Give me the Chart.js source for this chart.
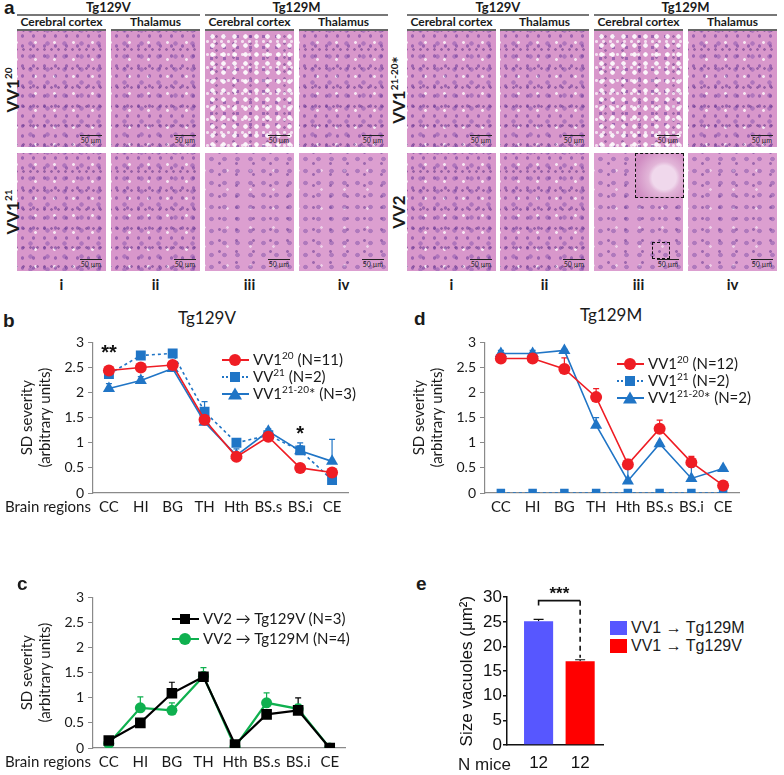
<!DOCTYPE html>
<html lang="en">
<head>
  <meta charset="UTF-8">
  <title>SD severity and vacuole size</title>
  <script src="https://cdn.jsdelivr.net/npm/chart.js"></script>
  <style>
    body {
      margin: 0;
      background: #fff;
      font-family: Lato, "Open Sans", sans-serif;
      color: #1a1a1a;
    }
    #page {
      position: relative;
      width: 784px;
      height: 775px;
      overflow: hidden;
    }
    .abs { position: absolute; white-space: nowrap; }
    .panel { font-weight: bold; font-size: 19px; font-family: "Liberation Sans", Arial, sans-serif; }
    .grp {
      position: absolute; top: 0; height: 14px;
      border-bottom: 2px solid #777;
      text-align: center; font-weight: bold; font-size: 13px; line-height: 14px;
    }
    .sub {
      position: absolute; top: 15px; height: 13px; white-space: nowrap;
      text-align: center; font-weight: bold; font-size: 12px; line-height: 14px;
    }
    .tissue {
      position: absolute; width: 89px; height: 118px;
      border-top: 2px solid #666;
      box-sizing: border-box;
      background-color: #d897cb;
      background-image:
        radial-gradient(circle, rgba(110,60,155,0.55) 0 1.4px, transparent 2px),
        radial-gradient(circle, rgba(125,75,170,0.45) 0 1.9px, transparent 2.5px),
        radial-gradient(circle, rgba(90,45,130,0.5) 0 1px, transparent 1.6px),
        radial-gradient(circle, rgba(255,255,255,0.75) 0 1.1px, transparent 1.7px);
      background-size: 11px 10px, 17px 13px, 7px 19px, 19px 17px;
      background-position: 0 0, 5px 6px, 3px 9px, 9px 3px;
    }
    .tissue.row2 { border-top: none; }
    .tissue.vac {
      background-image:
        radial-gradient(circle, rgba(255,255,255,0.9) 0 1.9px, transparent 2.6px),
        radial-gradient(circle, rgba(110,60,155,0.55) 0 1.4px, transparent 2px),
        radial-gradient(circle, rgba(255,255,255,0.7) 0 1.2px, transparent 1.8px),
        radial-gradient(circle, rgba(90,45,130,0.45) 0 1px, transparent 1.6px);
      background-size: 11px 9px, 13px 11px, 7px 13px, 17px 7px;
      background-position: 2px 1px, 0 0, 6px 4px, 3px 2px;
    }
    .tissue.pale {
      background-color: #dc9fd0;
      background-image:
        radial-gradient(circle, rgba(120,75,165,0.45) 0 2px, transparent 2.6px),
        radial-gradient(circle, rgba(95,50,140,0.5) 0 1.1px, transparent 1.7px),
        radial-gradient(circle, rgba(255,255,255,0.5) 0 1px, transparent 1.6px);
      background-size: 13px 12px, 17px 11px, 23px 19px;
      background-position: 0 0, 6px 5px, 11px 8px;
    }
    .bar50 {
      position: absolute; right: 4px; bottom: 3px;
      font-size: 7px; line-height: 8px; color: #222;
      border-top: 1.5px solid #222; padding: 0 1px;
    }
    .rowlab {
      position: absolute; font-weight: bold; font-size: 17px;
      transform: translate(-50%, -50%) rotate(-90deg);
      white-space: nowrap;
    }
    .rowlab sup { font-size: 10px; }
    .roman { position: absolute; top: 275px; width: 89px; text-align: center; font-weight: bold; font-size: 15px; }
    .title { font-size: 17px; }
    .legend { font-size: 15px; line-height: 17px; }
    .legend .row { position: absolute; display: flex; align-items: center; white-space: nowrap; }
    .legend sup { font-size: 10px; line-height: 0; }
    .legend svg { margin-right: 4px; }
    .eleg { font-family: "Liberation Sans", Arial, sans-serif; font-size: 16px; }
    .eleg .sw { position: absolute; width: 17px; height: 14px; }
    canvas { position: absolute; }
  </style>
</head>
<body>
<div id="page">
  <!-- panel a: histology -->
  <div class="abs panel" style="left:4px; top:-3px;">a</div>
  <div id="histo"></div>

  <!-- panel b -->
  <div class="abs panel" style="left:3px; top:310px;">b</div>
  <div class="abs title" style="left:178px; top:307px;">Tg129V</div>
  <canvas id="chartB" style="left:3px; top:330px;" width="352" height="188"></canvas>
  <div class="abs" style="left:5px; top:497px; font-size:15px;">Brain regions</div>
  <div class="legend" id="legB"></div>

  <!-- panel d -->
  <div class="abs panel" style="left:414px; top:308px;">d</div>
  <div class="abs title" style="left:580px; top:304px;">Tg129M</div>
  <canvas id="chartD" style="left:395px; top:330px;" width="351" height="188"></canvas>
  <div class="legend" id="legD"></div>

  <!-- panel c -->
  <div class="abs panel" style="left:17px; top:573px;">c</div>
  <canvas id="chartC" style="left:3px; top:585px;" width="350" height="188"></canvas>
  <div class="abs" style="left:5px; top:752px; font-size:15px;">Brain regions</div>
  <div class="legend" id="legC"></div>

  <!-- panel e -->
  <div class="abs panel" style="left:416px; top:573px;">e</div>
  <canvas id="chartE" style="left:447px; top:586px;" width="160" height="189"></canvas>
  <div class="abs" style="left:458px; top:755px; font-family:'Liberation Sans',Arial,sans-serif; font-size:17px;">N mice</div>
  <div class="eleg">
    <div class="sw" style="left:610px; top:621px; background:#5757ff;"></div>
    <div class="abs" style="left:631px; top:619px;">VV1 → Tg129M</div>
    <div class="sw" style="left:610px; top:639px; background:#ff0000;"></div>
    <div class="abs" style="left:631px; top:637px;">VV1 → Tg129V</div>
  </div>
</div>

<script>
  // ---- data ----
  const regions = ['CC', 'HI', 'BG', 'TH', 'Hth', 'BS.s', 'BS.i', 'CE'];
  const yTicks = [0, 0.5, 1, 1.5, 2, 2.5, 3];

  // b: Tg129V
  const bVV1_20 = [2.44, 2.5, 2.55, 1.46, 0.72, 1.12, 0.5, 0.41];
  const bVV1_20Err = [0.04, 0.05, 0.04, 0.06, 0.05, 0.05, 0.04, 0.06];
  const bVV21 = [2.37, 2.74, 2.78, 1.62, 1.0, 1.15, 0.85, 0.26];
  const bVV21Err = [0.05, 0, 0, 0.2, 0, 0.08, 0.15, 0];
  const bVV1_2120 = [2.08, 2.24, 2.48, 1.41, 0.75, 1.23, 0.84, 0.63];
  const bVV1_2120Err = [0.1, 0.08, 0.05, 0.1, 0.13, 0.05, 0.1, 0.44];

  // d: Tg129M
  const dVV1_20 = [2.68, 2.68, 2.47, 1.91, 0.57, 1.28, 0.61, 0.15];
  const dVV1_20Err = [0.1, 0.1, 0.22, 0.17, 0.1, 0.17, 0.12, 0.03];
  const dVV1_21 = [0, 0, 0, 0, 0, 0, 0, 0];
  const dVV1_2120 = [2.78, 2.78, 2.84, 1.35, 0.24, 0.98, 0.29, 0.49];
  const dVV1_2120Err = [0.06, 0.06, 0.02, 0.15, 0.27, 0.02, 0.22, 0.02];

  // c: VV2 in both lines
  const cVV2_V = [0.15, 0.5, 1.09, 1.42, 0.07, 0.67, 0.75, 0];
  const cVV2_VErr = [0.03, 0.02, 0.22, 0.06, 0.02, 0.05, 0.25, 0];
  const cVV2_M = [0.09, 0.8, 0.75, 1.43, 0.02, 0.9, 0.78, 0];
  const cVV2_MErr = [0.02, 0.22, 0.15, 0.17, 0, 0.2, 0.09, 0];

  // e: vacuole size
  const eMice = ['12', '12'];
  const eGroups = ['VV1 → Tg129M', 'VV1 → Tg129V'];
  const eSize = [25.1, 17.0];
  const eSizeErr = [0.4, 0.3];

  const RED = '#ef1d24';
  const BLUE = '#2075c6';
  const GREEN = '#0fb04f';

  // ---- panel a (pictures only, no data) ----
  const histo = document.getElementById('histo');
  const colsL = [17, 111, 205, 299];
  const colsR = [407, 500, 594, 688];
  const subs = ['Cerebral cortex', 'Thalamus', 'Cerebral cortex', 'Thalamus'];
  let html = '';
  [colsL, colsR].forEach(cols => {
    html += `<div class="grp" style="left:${cols[0]}px; width:${cols[1] + 89 - cols[0]}px;">Tg129V</div>`;
    html += `<div class="grp" style="left:${cols[2]}px; width:${cols[3] + 89 - cols[2]}px;">Tg129M</div>`;
    cols.forEach((x, i) => {
      html += `<div class="sub" style="left:${x - 4}px; width:97px;">${subs[i]}</div>`;
      const c1 = i === 2 ? 'vac' : '';
      const c2 = i === 2 || i === 3 ? 'pale' : '';
      html += `<div class="tissue ${c1}" style="left:${x}px; top:29px;"><div class="bar50">50 µm</div></div>`;
      html += `<div class="tissue row2 ${c2}" style="left:${x}px; top:153px;"><div class="bar50">50 µm</div></div>`;
      html += `<div class="roman" style="left:${x}px;">${['i', 'ii', 'iii', 'iv'][i]}</div>`;
    });
  });
  // inset in VV2 / Tg129M cortex
  html += '<div class="abs" style="left:635px; top:153px; width:47px; height:43px; border:1.5px dashed #111; background:radial-gradient(circle at 60% 55%, #f0d8ec 0 12px, #e2b5d8 16px, #d08cc2 30px);"></div>';
  html += '<div class="abs" style="left:652px; top:242px; width:16px; height:15px; border:1.2px dashed #111;"></div>';
  html += '<div class="rowlab" style="left:12px; top:90px;">VV1<sup>20</sup></div>';
  html += '<div class="rowlab" style="left:12px; top:212px;">VV1<sup>21</sup></div>';
  html += '<div class="rowlab" style="left:398px; top:90px;">VV1<sup>21-20</sup>*</div>';
  html += '<div class="rowlab" style="left:398px; top:212px;">VV2</div>';
  histo.innerHTML = html;

  // ---- legends ----
  function sample(color, style, dash) {
    let m = '';
    if (style === 'circle') m = `<circle cx="13" cy="7" r="6" fill="${color}"/>`;
    if (style === 'rect') m = `<rect x="8" y="2" width="10" height="10" fill="${color}"/>`;
    if (style === 'triangle') m = `<polygon points="13,0.5 20,12.5 6,12.5" fill="${color}"/>`;
    return `<svg width="27" height="14"><line x1="0" y1="7" x2="27" y2="7" stroke="${color}" stroke-width="2" ${dash ? 'stroke-dasharray="2,2"' : ''}/>${m}</svg>`;
  }
  function legend(id, left, tops, items) {
    document.getElementById(id).innerHTML = items.map((it, i) =>
      `<div class="row" style="left:${left}px; top:${tops[i] - 8}px;">${sample(it[0], it[1], it[2])}<span>${it[3]}</span></div>`
    ).join('');
  }
  legend('legB', 222, [359, 376, 393], [
    [RED, 'circle', false, 'VV1<sup>20</sup> (N=11)'],
    [BLUE, 'rect', true, 'VV<sup>21</sup> (N=2)'],
    [BLUE, 'triangle', false, 'VV1<sup>21-20</sup>* (N=3)']
  ]);
  legend('legD', 617, [363, 380, 397], [
    [RED, 'circle', false, 'VV1<sup>20</sup> (N=12)'],
    [BLUE, 'rect', true, 'VV1<sup>21</sup> (N=2)'],
    [BLUE, 'triangle', false, 'VV1<sup>21-20</sup>* (N=2)']
  ]);
  legend('legC', 172, [618, 638], [
    ['#000', 'rect', false, 'VV2 → Tg129V (N=3)'],
    [GREEN, 'circle', false, 'VV2 → Tg129M (N=4)']
  ]);

  // ---- plugins ----
  // upper error bars, read from dataset.errUp
  const errorBars = {
    id: 'errorBars',
    beforeDatasetsDraw(chart) {
      const ctx = chart.ctx;
      const yScale = chart.scales.y;
      chart.data.datasets.forEach((ds, i) => {
        if (!ds.errUp) return;
        const meta = chart.getDatasetMeta(i);
        meta.data.forEach((el, j) => {
          const e = ds.errUp[j];
          if (!e) return;
          const v = meta.controller.getParsed(j).y;
          const yTop = yScale.getPixelForValue(v + e);
          const yBase = yScale.getPixelForValue(v);
          const cap = ds.capWidth || 3;
          ctx.save();
          ctx.strokeStyle = ds.errColor || ds.borderColor;
          ctx.lineWidth = 1.2;
          ctx.beginPath();
          ctx.moveTo(el.x, yBase);
          ctx.lineTo(el.x, yTop);
          ctx.moveTo(el.x - cap, yTop);
          ctx.lineTo(el.x + cap, yTop);
          ctx.stroke();
          ctx.restore();
        });
      });
    }
  };

  // significance stars above points
  const stars = {
    id: 'stars',
    afterDatasetsDraw(chart, args, opts) {
      if (!opts.marks) return;
      const ctx = chart.ctx;
      ctx.save();
      ctx.fillStyle = '#111';
      ctx.font = 'bold 20px "Liberation Sans", Arial, sans-serif';
      ctx.textAlign = 'center';
      ctx.textBaseline = 'middle';
      opts.marks.forEach(m => {
        ctx.fillText(m.text, chart.scales.x.getPixelForValue(m.index), chart.scales.y.getPixelForValue(m.y));
      });
      ctx.restore();
    }
  };

  function lineDs(label, data, err, color, shape, radius, dash) {
    return {
      label, data, errUp: err,
      borderColor: color, backgroundColor: color,
      borderWidth: 1.6, borderDash: dash ? [3, 3] : [],
      pointStyle: shape, pointRadius: radius, pointHoverRadius: radius,
      pointBorderWidth: 0, tension: 0
    };
  }

  function severityOptions(marks) {
    return {
      responsive: false,
      animation: false,
      layout: { padding: { top: 7, right: 2 } },
      plugins: { legend: { display: false }, tooltip: { enabled: false }, stars: { marks } },
      scales: {
        x: {
          type: 'category',
          offset: true,
          grid: { display: false, drawTicks: false },
          border: { color: '#8a8a8a', width: 1.2 },
          ticks: { color: '#1a1a1a', font: { family: 'Lato', size: 15 }, padding: 5, maxRotation: 0, autoSkip: false },
          afterFit: s => { s.height = 25; }
        },
        y: {
          min: 0, max: 3,
          afterBuildTicks: s => { s.ticks = yTicks.map(v => ({ value: v })); },
          grid: { drawOnChartArea: false, tickLength: 5, color: '#8a8a8a' },
          border: { color: '#8a8a8a', width: 1.2 },
          ticks: { color: '#1a1a1a', font: { family: 'Lato', size: 14 }, padding: 4, callback: v => v },
          title: { display: true, text: ['SD severity', '(arbitrary units)'], color: '#1a1a1a',
                   font: { family: 'Lato', size: 15, lineHeight: 1.2 }, padding: { top: 15 } },
          afterFit: s => { s.width = 90; }
        }
      }
    };
  }

  new Chart(document.getElementById('chartB'), {
    type: 'line',
    data: {
      labels: regions,
      datasets: [
        lineDs('VV1 20 (N=11)', bVV1_20, bVV1_20Err, RED, 'circle', 6, false),
        lineDs('VV 21 (N=2)', bVV21, bVV21Err, BLUE, 'rect', 7, true),
        lineDs('VV1 21-20* (N=3)', bVV1_2120, bVV1_2120Err, BLUE, 'triangle', 7, false)
      ]
    },
    options: severityOptions([{ index: 0, y: 2.78, text: '**' }, { index: 6, y: 1.17, text: '*' }]),
    plugins: [errorBars, stars]
  });

  new Chart(document.getElementById('chartD'), {
    type: 'line',
    data: {
      labels: regions,
      datasets: [
        lineDs('VV1 20 (N=12)', dVV1_20, dVV1_20Err, RED, 'circle', 6, false),
        lineDs('VV1 21 (N=2)', dVV1_21, null, BLUE, 'rect', 6, true),
        lineDs('VV1 21-20* (N=2)', dVV1_2120, dVV1_2120Err, BLUE, 'triangle', 7, false)
      ]
    },
    options: severityOptions(null),
    plugins: [errorBars, stars]
  });

  new Chart(document.getElementById('chartC'), {
    type: 'line',
    data: {
      labels: regions,
      datasets: [
        Object.assign(lineDs('VV2 → Tg129V (N=3)', cVV2_V, cVV2_VErr, '#000', 'rect', 7.5, false), { borderWidth: 2.2 }),
        Object.assign(lineDs('VV2 → Tg129M (N=4)', cVV2_M, cVV2_MErr, GREEN, 'circle', 5.5, false), { borderWidth: 2.2 })
      ]
    },
    options: severityOptions(null),
    plugins: [errorBars, stars]
  });

  // e: bars on a linear x so they sit where the original puts them
  const bracket = {
    id: 'bracket',
    afterDatasetsDraw(chart) {
      const ctx = chart.ctx, x = chart.scales.x, y = chart.scales.y;
      const x1 = x.getPixelForValue(1), x2 = x.getPixelForValue(2);
      const yL = y.getPixelForValue(29.3);
      ctx.save();
      ctx.strokeStyle = '#111';
      ctx.lineWidth = 1.6;
      ctx.beginPath();
      ctx.moveTo(x1, y.getPixelForValue(28.3));
      ctx.lineTo(x1, yL);
      ctx.lineTo(x2, yL);
      ctx.stroke();
      ctx.setLineDash([5, 4]);
      ctx.beginPath();
      ctx.moveTo(x2, yL);
      ctx.lineTo(x2, y.getPixelForValue(eSize[1] + eSizeErr[1] + 0.4));
      ctx.stroke();
      ctx.setLineDash([]);
      ctx.fillStyle = '#111';
      ctx.font = 'bold 17px "Liberation Sans", Arial, sans-serif';
      ctx.textAlign = 'center';
      ctx.textBaseline = 'middle';
      ctx.fillText('***', (x1 + x2) / 2, y.getPixelForValue(30.6));
      ctx.restore();
    }
  };

  new Chart(document.getElementById('chartE'), {
    type: 'bar',
    data: {
      datasets: [{
        label: 'Size vacuoles',
        data: eSize.map((v, i) => ({ x: i + 1, y: v })),
        errUp: eSizeErr, errColor: '#111', capWidth: 5,
        backgroundColor: ['#5757ff', '#ff0000'],
        borderWidth: 0,
        barPercentage: 0.7,
        categoryPercentage: 1
      }]
    },
    options: {
      responsive: false,
      animation: false,
      layout: { padding: { top: 7, right: 4 } },
      plugins: { legend: { display: false }, tooltip: { enabled: false } },
      scales: {
        x: {
          type: 'linear', min: 0.24, max: 2.55, offset: false,
          afterBuildTicks: s => { s.ticks = eMice.map((m, i) => ({ value: i + 1 })); },
          grid: { display: false, drawTicks: false },
          border: { color: '#111', width: 1.5 },
          ticks: { color: '#111', font: { family: 'Liberation Sans', size: 17 }, padding: 8,
                   callback: (v) => eMice[v - 1] },
          afterFit: s => { s.height = 30; }
        },
        y: {
          min: 0, max: 30,
          ticks: { stepSize: 5, color: '#111', font: { family: 'Liberation Sans', size: 17 }, padding: 1 },
          grid: { drawOnChartArea: false, tickLength: 4, color: '#111', lineWidth: 1.5 },
          border: { color: '#111', width: 1.5 },
          title: { display: true, text: 'Size vacuoles (μm²)', color: '#111',
                   font: { family: 'Liberation Sans', size: 17, lineHeight: 1.2 }, padding: { top: 10 } },
          afterFit: s => { s.width = 60; }
        }
      }
    },
    plugins: [errorBars, bracket]
  });
</script>
</body>
</html>
